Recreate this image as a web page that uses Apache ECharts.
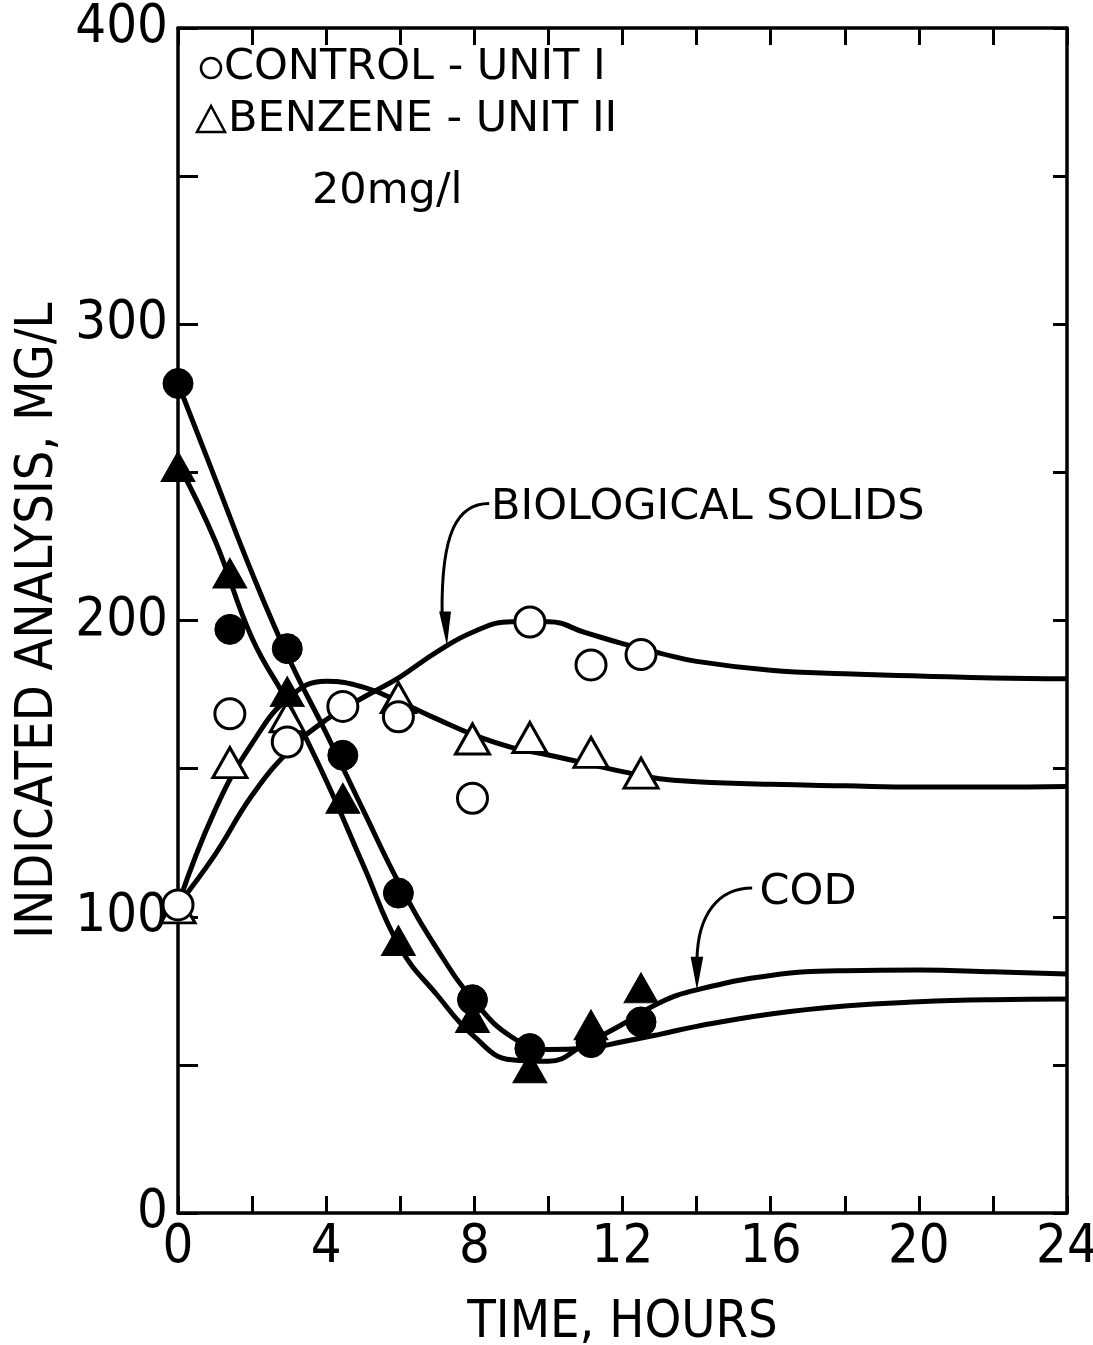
<!DOCTYPE html>
<html>
<head>
<meta charset="utf-8">
<script src="https://cdn.jsdelivr.net/npm/echarts@6/dist/echarts.min.js"></script>
<style>
  html, body { margin: 0; padding: 0; background: #fff; }
  #chart { width: 1093px; height: 1345px; }
</style>
</head>
<body>
<div id="chart"></div>
<script>
// measured points (hours)
const sampleTimes = [0, 1.4, 2.95, 4.45, 5.95, 7.95, 9.5, 11.15, 12.5];
const codControl = [280, 197, 190.5, 154.5, 108, 72, 55.5, 57.5, 64.5];
const codBenzene = [252, 216, 176, 140, 92, 66, 49, 63.5, 76];
const solidsControl = [104, 168.5, 159, 171, 167.5, 140, 199.5, 185, 188.5];
const solidsBenzeneTimes = [0, 1.4, 2.95, 5.95, 7.95, 9.5, 11.15, 12.5];
const solidsBenzene = [103, 152, 167.5, 174, 160, 160.5, 155.5, 148.5];

// fitted curves as drawn, read at whole hours
const curveHours = [0, 1, 2, 3, 4, 5, 6, 7, 8, 9, 10, 11, 12, 13, 14, 16, 18, 20, 22, 24];
const codControlCurve = [280, 248, 216, 187, 162, 136, 110.5, 89, 71.5, 59.5, 55.2, 55.6, 57.8, 60.3, 63, 67.2, 69.9, 71.3, 72, 72.2];
const codBenzeneCurve = [253, 227, 194, 171.5, 146, 117.5, 89.5, 73.5, 59.5, 51.7, 51.2, 57, 63.7, 71, 75.3, 80.2, 81.8, 82, 81.4, 80.7];
const solidsControlCurve = [104, 121, 141, 156, 166.5, 174, 181, 189.5, 196.3, 199.6, 199.6, 195.9, 192.2, 189, 186.2, 183.2, 182, 181.3, 180.6, 180.3];
const solidsBenzeneCurve = [104, 136, 158.5, 174, 179.5, 177.5, 172.5, 166.7, 161.3, 157.2, 154.6, 151.8, 149, 146.6, 145.6, 144.7, 144.2, 143.8, 143.8, 144];

const xTicks = { min: 0, max: 24, step: 2, labelStep: 4 };
const yTicks = { min: 0, max: 400, step: 50, labelStep: 100 };

const narrow = '"Liberation Sans Narrow", "DejaVu Sans Condensed", sans-serif';
const plain = '"DejaVu Sans", sans-serif';

const zip = (xs, ys) => xs.map((x, i) => [x, ys[i]]);

const chart = echarts.init(document.getElementById('chart'));

function curve(name, ys) {
    return {
        name, type: 'line', data: zip(curveHours, ys), showSymbol: false,
        smooth: 0.45, z: 2, silent: true,
        lineStyle: { color: '#000', width: 5 }
    };
}

function points(name, xs, ys, symbol, filled) {
    return {
        name, type: 'scatter', data: zip(xs, ys), z: 4,
        symbol, symbolSize: symbol === 'circle' ? 30 : [34, 30],
        itemStyle: filled
            ? { color: '#000', borderColor: '#000', borderWidth: 1, opacity: 1 }
            : { color: '#fff', borderColor: '#000', borderWidth: 3, opacity: 1 }
    };
}

const axisBase = (t, len) => ({
    type: 'value', min: t.min, max: t.max, interval: t.step,
    axisLine: { show: true, onZero: false, lineStyle: { color: '#000', width: 3.5 } },
    axisTick: { show: true, inside: true, length: len, lineStyle: { color: '#000', width: 3 } },
    splitLine: { show: false }
});

const option = {
    backgroundColor: '#fff',
    animation: false,
    grid: { left: 178, right: 26, top: 28, bottom: 132, containLabel: false, outerBoundsMode: 'none' },
    xAxis: [
        Object.assign(axisBase(xTicks, 17), {
            position: 'bottom',
            name: 'TIME, HOURS', nameLocation: 'middle', nameGap: 84,
            nameTextStyle: { fontFamily: narrow, fontSize: 52, color: '#000' },
            axisLabel: {
                fontFamily: narrow, fontSize: 54, color: '#000', margin: 8,
                formatter: v => (v % xTicks.labelStep === 0 ? String(v) : '')
            }
        }),
        Object.assign(axisBase(xTicks, 17), { position: 'top', axisLabel: { show: false } })
    ],
    yAxis: [
        Object.assign(axisBase(yTicks, 20), {
            position: 'left',
            name: 'INDICATED ANALYSIS, MG/L', nameLocation: 'middle', nameGap: 114,
            nameTextStyle: { fontFamily: narrow, fontSize: 52, color: '#000' },
            axisLabel: {
                fontFamily: narrow, fontSize: 54, color: '#000', margin: 10,
                formatter: v => (v % yTicks.labelStep === 0 ? String(v) : '')
            }
        }),
        Object.assign(axisBase(yTicks, 14), { position: 'right', axisLabel: { show: false } })
    ],
    series: [
        curve('COD control curve', codControlCurve),
        curve('COD benzene curve', codBenzeneCurve),
        curve('Solids control curve', solidsControlCurve),
        curve('Solids benzene curve', solidsBenzeneCurve),
        points('Solids benzene', solidsBenzeneTimes, solidsBenzene, 'triangle', false),
        points('Solids control', sampleTimes, solidsControl, 'circle', false),
        points('COD benzene', sampleTimes, codBenzene, 'triangle', true),
        points('COD control', sampleTimes, codControl, 'circle', true)
    ]
};
chart.setOption(option);

// annotation leaders, in data units
const px = p => chart.convertToPixel({ gridIndex: 0 }, p);

function leader(start, c1, c2, end, tip, baseL, baseR) {
    const [s, a, b, e] = [start, c1, c2, end].map(px);
    const [t, l, r] = [tip, baseL, baseR].map(px);
    return [
        { type: 'bezierCurve', z: 10, silent: true,
          shape: { x1: s[0], y1: s[1], cpx1: a[0], cpy1: a[1], cpx2: b[0], cpy2: b[1], x2: e[0], y2: e[1] },
          style: { stroke: '#000', lineWidth: 3, fill: null } },
        { type: 'polygon', z: 10, silent: true,
          shape: { points: [t, l, r] }, style: { fill: '#000' } }
    ];
}

const bsText = px([8.45, 238]);
const codText = px([15.7, 108.2]);

const textStyle = { fontFamily: plain, fontSize: 43, fill: '#000' };
const txt = (text, x, y, spacing) => ({
    type: 'text', x, y, z: 10,
    style: Object.assign({ text, verticalAlign: 'middle', align: 'left', letterSpacing: spacing }, textStyle)
});

chart.setOption({
    graphic: [
        ...leader([8.4, 239.5], [7.55, 239.5], [7.1, 230], [7.13, 202], [7.26, 191.5], [7.05, 203], [7.37, 203]),
        ...leader([15.5, 109.7], [14.6, 109.7], [14.02, 101], [14.01, 85], [14.01, 75.3], [13.84, 86.5], [14.18, 86.5]),
        txt('BIOLOGICAL SOLIDS', bsText[0], bsText[1], 1.2),
        txt('COD', codText[0], codText[1], 0),
        // key block
        { type: 'circle', z: 10, shape: { cx: 211, cy: 68, r: 10 },
          style: { fill: '#fff', stroke: '#000', lineWidth: 2.5 } },
        { type: 'polygon', z: 10, shape: { points: [[211, 106], [197, 132], [225, 132]] },
          style: { fill: '#fff', stroke: '#000', lineWidth: 2.5 } },
        txt('CONTROL - UNIT I', 224, 68, 1.5),
        txt('BENZENE - UNIT II', 228, 120, 3),
        txt('20mg/l', 312, 192, 0.5)
    ]
});
</script>
</body>
</html>
